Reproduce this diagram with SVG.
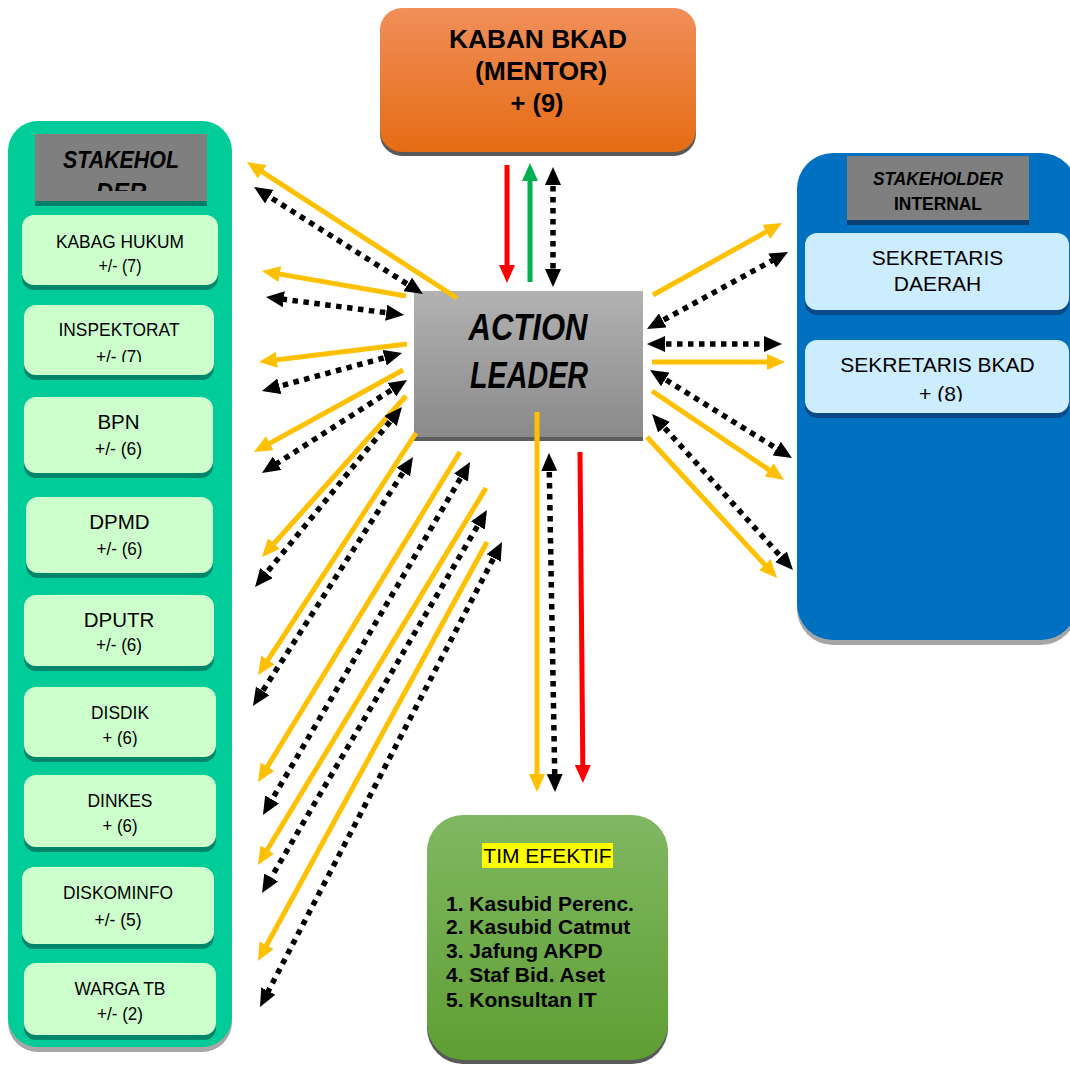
<svg xmlns="http://www.w3.org/2000/svg" width="1070" height="1066" viewBox="0 0 1070 1066">
  <style>
    text { font-family: "Liberation Sans", Arial, sans-serif; fill: #000; }
    .lbl { font-size: 19px; text-anchor: middle; }
    .lblw { font-size: 20.5px; text-anchor: middle; }
    .rlbl { font-size: 21px; text-anchor: middle; }
    .hdr { font-weight: bold; font-style: italic; text-anchor: middle; }
    .ybox { fill: #CCFFCC; }
    .yshd { fill: #00866A; }
    .bbox { fill: #CCECFF; }
    .bshd { fill: #0A4A86; }
    .ylw { stroke: #FFC000; stroke-width: 5; fill: none; marker-end: url(#ahY); }
    .dot { stroke: #000; stroke-width: 5.5; stroke-dasharray: 5.5 5.5; fill: none; marker-start: url(#ahK); marker-end: url(#ahK); }
    .red { stroke: #FF0000; stroke-width: 5; fill: none; marker-end: url(#ahR); }
    .grn { stroke: #00B050; stroke-width: 5; fill: none; marker-end: url(#ahG); }
    .list { font-size: 21px; font-weight: bold; }
  </style>
  <defs>
    <linearGradient id="gOrange" x1="0" y1="0" x2="0" y2="1">
      <stop offset="0" stop-color="#F18E59"/>
      <stop offset="1" stop-color="#E56C14"/>
    </linearGradient>
    <linearGradient id="gGray" x1="0" y1="0" x2="0" y2="1">
      <stop offset="0" stop-color="#B2B2B2"/>
      <stop offset="1" stop-color="#8A8A8A"/>
    </linearGradient>
    <linearGradient id="gGreen" x1="0" y1="0" x2="0" y2="1">
      <stop offset="0" stop-color="#80B862"/>
      <stop offset="1" stop-color="#5F9E33"/>
    </linearGradient>
    <marker id="ahY" markerUnits="userSpaceOnUse" markerWidth="18" markerHeight="16" refX="10" refY="8" orient="auto">
      <path d="M0,0 L18,8 L0,16 Z" fill="#FFC000"/>
    </marker>
    <marker id="ahK" markerUnits="userSpaceOnUse" markerWidth="18" markerHeight="16" refX="10" refY="8" orient="auto-start-reverse">
      <path d="M0,0 L18,8 L0,16 Z" fill="#000"/>
    </marker>
    <marker id="ahR" markerUnits="userSpaceOnUse" markerWidth="18" markerHeight="16" refX="10" refY="8" orient="auto">
      <path d="M0,0 L18,8 L0,16 Z" fill="#FF0000"/>
    </marker>
    <marker id="ahG" markerUnits="userSpaceOnUse" markerWidth="18" markerHeight="16" refX="10" refY="8" orient="auto">
      <path d="M0,0 L18,8 L0,16 Z" fill="#00B050"/>
    </marker>
    <clipPath id="clipHdrL"><rect x="35" y="134" width="172" height="57"/></clipPath>
    <clipPath id="clipInsp"><rect x="24" y="305" width="190" height="57"/></clipPath>
    <clipPath id="clipDisdik"><rect x="24" y="687" width="192" height="60"/></clipPath>
    <clipPath id="clipSekBkad"><rect x="805" y="340" width="264" height="61.5"/></clipPath>
  </defs>

  <!-- external stakeholders panel -->
  <g id="stakeholder-eksternal">
    <rect x="8" y="126" width="224" height="926" rx="30" fill="#A6A6A6"/>
    <rect x="8" y="121" width="224" height="926" rx="30" fill="#00CC99"/>
    <rect x="35" y="139" width="172" height="67" fill="#00806A"/>
    <rect x="35" y="134" width="172" height="67" fill="#7F7F7F"/>
    <g clip-path="url(#clipHdrL)">
      <text class="hdr" x="121" y="168" font-size="24" textLength="116" lengthAdjust="spacingAndGlyphs">STAKEHOL</text>
      <text class="hdr" x="121" y="200" font-size="24">DER</text>
    </g>
  </g>

  <g id="kabag-hukum">
    <rect class="yshd" x="22" y="220" width="196" height="70" rx="12"/>
    <rect class="ybox" x="22" y="215" width="196" height="70" rx="12"/>
    <text class="lbl" x="120" y="248" textLength="128" lengthAdjust="spacingAndGlyphs">KABAG HUKUM</text>
    <text class="lbl" x="120" y="272" textLength="43" lengthAdjust="spacingAndGlyphs">+/- (7)</text>
  </g>
  <g id="inspektorat">
    <rect class="yshd" x="24" y="310" width="190" height="70" rx="12"/>
    <rect class="ybox" x="24" y="305" width="190" height="70" rx="12"/>
    <text class="lbl" x="119" y="336" textLength="121" lengthAdjust="spacingAndGlyphs">INSPEKTORAT</text>
    <text class="lbl" x="119" y="363" textLength="46" lengthAdjust="spacingAndGlyphs" clip-path="url(#clipInsp)">+/- (7)</text>
  </g>
  <g id="bpn">
    <rect class="yshd" x="24" y="402" width="189" height="76" rx="12"/>
    <rect class="ybox" x="24" y="397" width="189" height="76" rx="12"/>
    <text class="lblw" x="118.5" y="429">BPN</text>
    <text class="lbl" x="118.5" y="455" textLength="47" lengthAdjust="spacingAndGlyphs">+/- (6)</text>
  </g>
  <g id="dpmd">
    <rect class="yshd" x="26" y="502" width="187" height="76" rx="12"/>
    <rect class="ybox" x="26" y="497" width="187" height="76" rx="12"/>
    <text class="lblw" x="119.5" y="529">DPMD</text>
    <text class="lbl" x="119.5" y="555" textLength="46" lengthAdjust="spacingAndGlyphs">+/- (6)</text>
  </g>
  <g id="dputr">
    <rect class="yshd" x="24" y="600" width="190" height="71" rx="12"/>
    <rect class="ybox" x="24" y="595" width="190" height="71" rx="12"/>
    <text class="lblw" x="119" y="627">DPUTR</text>
    <text class="lbl" x="119" y="651" textLength="46" lengthAdjust="spacingAndGlyphs">+/- (6)</text>
  </g>
  <g id="disdik">
    <rect class="yshd" x="24" y="692" width="192" height="70" rx="12"/>
    <rect class="ybox" x="24" y="687" width="192" height="70" rx="12"/>
    <text class="lbl" x="120" y="719" textLength="58" lengthAdjust="spacingAndGlyphs">DISDIK</text>
    <text class="lbl" x="120" y="744" textLength="35" lengthAdjust="spacingAndGlyphs" clip-path="url(#clipDisdik)">+ (6)</text>
  </g>
  <g id="dinkes">
    <rect class="yshd" x="24" y="780" width="192" height="72" rx="12"/>
    <rect class="ybox" x="24" y="775" width="192" height="72" rx="12"/>
    <text class="lbl" x="120" y="807" textLength="65" lengthAdjust="spacingAndGlyphs">DINKES</text>
    <text class="lbl" x="120" y="832" textLength="35" lengthAdjust="spacingAndGlyphs">+ (6)</text>
  </g>
  <g id="diskominfo">
    <rect class="yshd" x="22" y="872" width="192" height="77" rx="12"/>
    <rect class="ybox" x="22" y="867" width="192" height="77" rx="12"/>
    <text class="lbl" x="118" y="899" textLength="110" lengthAdjust="spacingAndGlyphs">DISKOMINFO</text>
    <text class="lbl" x="118" y="926" textLength="47" lengthAdjust="spacingAndGlyphs">+/- (5)</text>
  </g>
  <g id="warga-tb">
    <rect class="yshd" x="24" y="968" width="192" height="72" rx="12"/>
    <rect class="ybox" x="24" y="963" width="192" height="72" rx="12"/>
    <text class="lbl" x="120" y="995" textLength="91" lengthAdjust="spacingAndGlyphs">WARGA TB</text>
    <text class="lbl" x="120" y="1020" textLength="46" lengthAdjust="spacingAndGlyphs">+/- (2)</text>
  </g>

  <!-- internal stakeholders panel -->
  <g id="stakeholder-internal">
    <rect x="797" y="158" width="280" height="487" rx="36" fill="#A6A6A6"/>
    <rect x="797" y="153" width="280" height="487" rx="36" fill="#0070C0"/>
    <rect x="847" y="161" width="182" height="64" fill="#0A3F75"/>
    <rect x="847" y="156" width="182" height="64" fill="#7F7F7F"/>
    <text class="hdr" x="938" y="185" font-size="18.5" textLength="130" lengthAdjust="spacingAndGlyphs">STAKEHOLDER</text>
    <text x="938" y="210" font-size="18.5" font-weight="bold" text-anchor="middle" textLength="88" lengthAdjust="spacingAndGlyphs">INTERNAL</text>
  </g>
  <g id="sekretaris-daerah">
    <rect class="bshd" x="805" y="238" width="264" height="77" rx="12"/>
    <rect class="bbox" x="805" y="233" width="264" height="77" rx="12"/>
    <text class="rlbl" x="937.5" y="265">SEKRETARIS</text>
    <text class="rlbl" x="937.5" y="291">DAERAH</text>
  </g>
  <g id="sekretaris-bkad">
    <rect class="bshd" x="805" y="345" width="264" height="73" rx="12"/>
    <rect class="bbox" x="805" y="340" width="264" height="73" rx="12"/>
    <text class="rlbl" x="937.5" y="372">SEKRETARIS BKAD</text>
    <text class="rlbl" x="941" y="401" clip-path="url(#clipSekBkad)">+ (8)</text>
  </g>

  <!-- mentor -->
  <g id="kaban-bkad">
    <rect x="380" y="12" width="316" height="144" rx="22" fill="#595959"/>
    <rect x="380" y="8" width="316" height="144" rx="22" fill="url(#gOrange)"/>
    <text x="538" y="48" font-size="25" font-weight="bold" text-anchor="middle" textLength="178" lengthAdjust="spacingAndGlyphs">KABAN BKAD</text>
    <text x="541" y="80" font-size="25" font-weight="bold" text-anchor="middle" textLength="132" lengthAdjust="spacingAndGlyphs">(MENTOR)</text>
    <text x="537" y="112" font-size="25" font-weight="bold" text-anchor="middle" textLength="53" lengthAdjust="spacingAndGlyphs">+ (9)</text>
  </g>

  <!-- central actor -->
  <g id="action-leader">
    <rect x="414" y="295" width="229" height="146" fill="#5E5E5E"/>
    <rect x="414" y="291" width="229" height="146" fill="url(#gGray)"/>
    <text x="528" y="340" font-family="Lato, 'Open Sans', sans-serif" font-size="36" font-weight="bold" font-style="italic" text-anchor="middle" textLength="119" lengthAdjust="spacingAndGlyphs">ACTION</text>
    <text x="529" y="388" font-family="Lato, 'Open Sans', sans-serif" font-size="36" font-weight="bold" font-style="italic" text-anchor="middle" textLength="118" lengthAdjust="spacingAndGlyphs">LEADER</text>
  </g>

  <!-- effective team -->
  <g id="tim-efektif">
    <rect x="427" y="819" width="241" height="245" rx="36" fill="#595959"/>
    <rect x="427" y="815" width="241" height="245" rx="36" fill="url(#gGreen)"/>
    <rect x="482" y="843" width="131" height="25" fill="#FFFF00"/>
    <text x="547.5" y="863" font-size="21" text-anchor="middle">TIM EFEKTIF</text>
    <text class="list" x="446" y="911">1. Kasubid Perenc.</text>
    <text class="list" x="446" y="934">2. Kasubid Catmut</text>
    <text class="list" x="446" y="958">3. Jafung AKPD</text>
    <text class="list" x="446" y="982">4. Staf Bid. Aset</text>
    <text class="list" x="446" y="1007">5. Konsultan IT</text>
  </g>

  <g id="connectors">
    <!-- mentor links -->
    <line class="red" x1="507" y1="165" x2="507" y2="275"/>
    <line class="grn" x1="530" y1="282" x2="530" y2="171"/>
    <line class="dot" x1="553" y1="175" x2="553" y2="279"/>

    <!-- external stakeholders: flows -->
    <line class="ylw" x1="457" y1="298" x2="253.7" y2="166.4"/>
    <line class="ylw" x1="406" y1="296" x2="269.9" y2="272.4"/>
    <line class="ylw" x1="407" y1="344" x2="266.9" y2="361"/>
    <line class="ylw" x1="403" y1="370" x2="261" y2="448.1"/>
    <line class="ylw" x1="406" y1="396" x2="267.3" y2="551"/>
    <line class="ylw" x1="416" y1="433" x2="262.4" y2="668.3"/>
    <line class="ylw" x1="460" y1="452" x2="262.2" y2="775.2"/>
    <line class="ylw" x1="486" y1="488" x2="262.1" y2="858.2"/>
    <line class="ylw" x1="487" y1="542" x2="261.8" y2="954"/>

    <!-- external stakeholders: two-way communication -->
    <line class="dot" x1="416.2" y1="289.7" x2="260.8" y2="191.3"/>
    <line class="dot" x1="396.1" y1="314" x2="273.9" y2="298"/>
    <line class="dot" x1="394.3" y1="355.1" x2="269.7" y2="388.9"/>
    <line class="dot" x1="400.3" y1="384.3" x2="268.7" y2="468.7"/>
    <line class="dot" x1="396.9" y1="413.2" x2="260.1" y2="580.8"/>
    <line class="dot" x1="408.7" y1="463.7" x2="257.3" y2="699.3"/>
    <line class="dot" x1="466" y1="468.9" x2="267" y2="808.1"/>
    <line class="dot" x1="482.9" y1="516.9" x2="266.1" y2="886.1"/>
    <line class="dot" x1="498.3" y1="549.1" x2="263.7" y2="999.9"/>

    <!-- internal stakeholders -->
    <line class="ylw" x1="653" y1="295" x2="775" y2="226.9"/>
    <line class="ylw" x1="652" y1="362" x2="777" y2="362"/>
    <line class="ylw" x1="652" y1="391" x2="777.4" y2="475.5"/>
    <line class="ylw" x1="647" y1="437" x2="771.6" y2="572.1"/>
    <line class="dot" x1="654" y1="325.2" x2="781" y2="255.8"/>
    <line class="dot" x1="655" y1="344" x2="774" y2="344"/>
    <line class="dot" x1="656.8" y1="374.2" x2="785.2" y2="453.8"/>
    <line class="dot" x1="657.4" y1="419.9" x2="787.6" y2="564.1"/>

    <!-- effective team -->
    <line class="ylw" x1="537" y1="412" x2="537" y2="784"/>
    <line class="dot" x1="549.1" y1="461" x2="554.9" y2="784"/>
    <line class="red" x1="580" y1="452" x2="582.9" y2="775"/>
  </g>
</svg>
